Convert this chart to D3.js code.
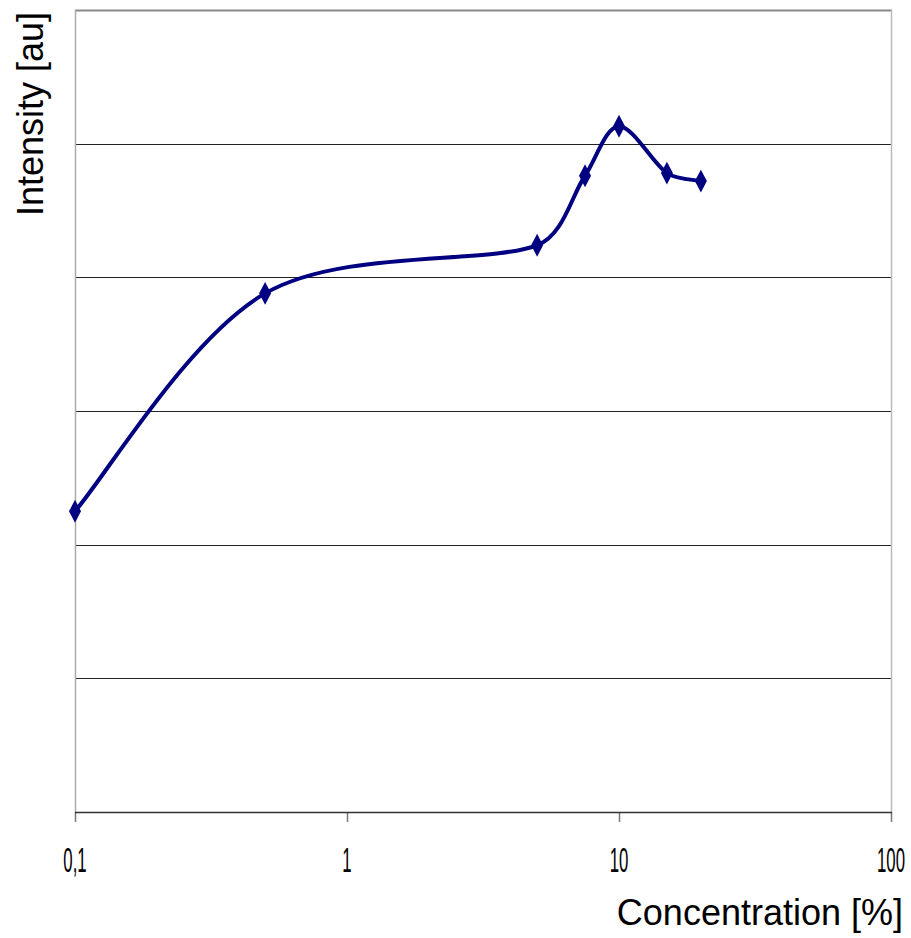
<!DOCTYPE html>
<html>
<head>
<meta charset="utf-8">
<script src="https://cdn.jsdelivr.net/npm/d3@7"></script>
<style>
  html, body { margin: 0; padding: 0; background: #ffffff; }
  svg { display: block; }
</style>
</head>
<body>
<svg id="chart" width="911" height="938"></svg>
<script>
// Measured intensity against concentration (log scale)
const concentrations = [0.1, 0.5, 5, 7.5, 10, 15, 20];
const intensities = [2.25, 3.88, 4.24, 4.76, 5.13, 4.78, 4.72];
const xTickValues = [0.1, 1, 10, 100];
const xTickLabels = ["0,1", "1", "10", "100"];
const yGridValues = [1, 2, 3, 4, 5];

// Spreadsheet-style smoothing: Catmull-Rom tangents, with each control
// handle limited to a third of its own segment so short segments next
// to long ones do not loop or kink.
class SmoothCurve {
  constructor(context) { this._context = context; }
  areaStart() { this._line = 0; }
  areaEnd() { this._line = NaN; }
  lineStart() { this._pts = []; }
  point(x, y) { this._pts.push([+x, +y]); }
  lineEnd() {
    const p = this._pts, n = p.length, ctx = this._context;
    if (!n) return;
    ctx.moveTo(p[0][0], p[0][1]);
    if (n === 1) return;
    const tangent = i => {
      const a = p[Math.max(i - 1, 0)], b = p[Math.min(i + 1, n - 1)];
      return [(b[0] - a[0]) / 6, (b[1] - a[1]) / 6];
    };
    const clamp = (t, limit) => {
      const m = Math.hypot(t[0], t[1]);
      if (m <= limit || m === 0) return t;
      return [t[0] * limit / m, t[1] * limit / m];
    };
    for (let i = 0; i < n - 1; i++) {
      const a = p[i], b = p[i + 1];
      const seg = Math.hypot(b[0] - a[0], b[1] - a[1]);
      const ta = clamp(tangent(i), seg / 3);
      const tb = clamp(tangent(i + 1), seg / 3);
      ctx.bezierCurveTo(a[0] + ta[0], a[1] + ta[1], b[0] - tb[0], b[1] - tb[1], b[0], b[1]);
    }
  }
}
const curveSmooth = context => new SmoothCurve(context);

const svg = d3.select("#chart");
const plotLeft = 75, plotRight = 891, plotTop = 10, plotBottom = 812;

const x = d3.scaleLog().domain([0.1, 100]).range([plotLeft, plotRight]);
const y = d3.scaleLinear().domain([0, 6]).range([plotBottom, plotTop]);

// horizontal gridlines
svg.append("g")
  .selectAll("line")
  .data(yGridValues)
  .join("line")
  .attr("x1", plotLeft).attr("x2", plotRight)
  .attr("y1", d => Math.round(y(d)) + 0.5).attr("y2", d => Math.round(y(d)) + 0.5)
  .attr("stroke", "#222").attr("stroke-width", 1);

// plot frame: top and right edges
svg.append("line")
  .attr("x1", plotLeft).attr("x2", plotRight + 1)
  .attr("y1", plotTop + 0.5).attr("y2", plotTop + 0.5)
  .attr("stroke", "#888").attr("stroke-width", 2);
svg.append("line")
  .attr("x1", plotRight + 0.5).attr("x2", plotRight + 0.5)
  .attr("y1", plotTop).attr("y2", plotBottom)
  .attr("stroke", "#bbb").attr("stroke-width", 1.5);

// left axis line
svg.append("line")
  .attr("x1", plotLeft + 0.5).attr("x2", plotLeft + 0.5)
  .attr("y1", plotTop).attr("y2", plotBottom)
  .attr("stroke", "#aaa").attr("stroke-width", 1.5);

// x axis with log ticks
const xAxis = d3.axisBottom(x)
  .tickValues(xTickValues)
  .tickSize(10)
  .tickFormat("");
const gx = svg.append("g")
  .attr("transform", `translate(0,${plotBottom})`)
  .call(xAxis);
gx.select(".domain").remove();
gx.selectAll(".tick line").attr("stroke", "#777").attr("stroke-width", 1.5);
svg.append("line")
  .attr("x1", plotLeft).attr("x2", plotRight + 1)
  .attr("y1", plotBottom + 0.5).attr("y2", plotBottom + 0.5)
  .attr("stroke", "#333").attr("stroke-width", 1.5);

// condensed tick labels
svg.append("g")
  .selectAll("text")
  .data(xTickValues)
  .join("text")
  .attr("transform", d => `translate(${x(d)},872) scale(0.48,1)`)
  .attr("text-anchor", "middle")
  .attr("font-family", "'Liberation Sans', Arial, sans-serif")
  .attr("font-size", 35)
  .attr("fill", "#000")
  .text((d, i) => xTickLabels[i]);

// smoothed series line
const points = concentrations.map((c, i) => [c, intensities[i]]);
const line = d3.line()
  .x(d => x(d[0]))
  .y(d => y(d[1]))
  .curve(curveSmooth);
svg.append("path")
  .datum(points)
  .attr("d", line)
  .attr("fill", "none")
  .attr("stroke", "#000080")
  .attr("stroke-width", 4)
  .attr("stroke-linejoin", "round");

// diamond markers
svg.append("g")
  .selectAll("path")
  .data(points)
  .join("path")
  .attr("transform", d => `translate(${x(d[0])},${y(d[1])}) scale(1,1.1)`)
  .attr("d", d3.symbol(d3.symbolDiamond, 125))
  .attr("fill", "#000080");

// axis titles
svg.append("text")
  .attr("x", 903).attr("y", 925)
  .attr("text-anchor", "end")
  .attr("font-family", "'Liberation Sans', Arial, sans-serif")
  .attr("font-size", 36)
  .attr("fill", "#000")
  .text("Concentration [%]");

svg.append("text")
  .attr("transform", "translate(43,216) rotate(-90)")
  .attr("text-anchor", "start")
  .attr("font-family", "'Liberation Sans', Arial, sans-serif")
  .attr("font-size", 36)
  .attr("fill", "#000")
  .text("Intensity [au]");
</script>
</body>
</html>
